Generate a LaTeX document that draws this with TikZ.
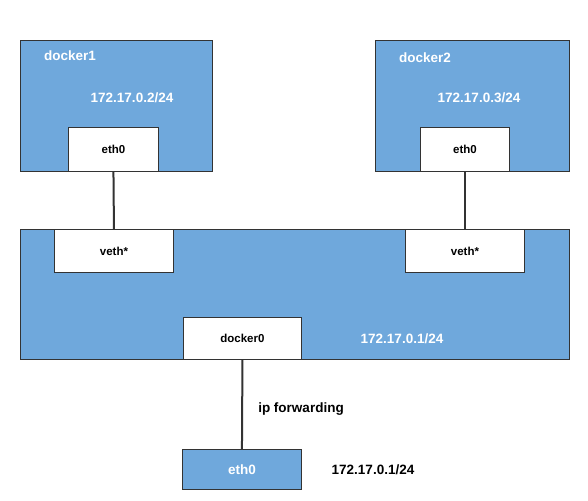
\documentclass[tikz,border=0pt]{standalone}
\usepackage{fontspec}
\setmainfont{Liberation Sans}
\definecolor{boxblue}{HTML}{6FA8DC}
\definecolor{edge}{HTML}{333333}
\begin{document}
\begin{tikzpicture}[x=1pt,y=-1pt,
  container/.style={draw=edge,line width=0.9pt,fill=boxblue,anchor=north west,inner sep=0pt},
  wbox/.style={draw=edge,line width=0.9pt,fill=white,anchor=north west,inner sep=0pt,font=\bfseries\fontsize{11.5}{13}\selectfont},
  wlabel/.style={text=white,font=\bfseries\fontsize{13.5}{16}\selectfont,inner sep=0pt},
  blabel/.style={text=black,font=\bfseries\fontsize{13.5}{16}\selectfont,inner sep=0pt},
  link/.style={draw=edge,line width=2pt}]
\useasboundingbox (0,0) rectangle (588,500);
% containers
\node[container,minimum width=192pt,minimum height=131pt] (docker1) at (20,40) {};
\node[container,minimum width=194pt,minimum height=131pt] (docker2) at (375,40) {};
\node[container,minimum width=549pt,minimum height=130pt] (host) at (20,229) {};
% labels
\node[wlabel] (d1name) at (70,56) {docker1};
\node[wlabel] (d1ip) at (132,98) {172.17.0.2/24};
\node[wlabel] (d2name) at (425,58) {docker2};
\node[wlabel] (d2ip) at (479,98) {172.17.0.3/24};
\node[wlabel] (hostip) at (402,339) {172.17.0.1/24};
% inner boxes
\node[wbox,minimum width=90pt,minimum height=44pt] (eth1) at (68,127) {eth0};
\node[wbox,minimum width=89pt,minimum height=44pt] (eth2) at (420,127) {eth0};
\node[wbox,minimum width=119pt,minimum height=43pt] (veth1) at (54,229) {veth*};
\node[wbox,minimum width=119pt,minimum height=43pt] (veth2) at (405,229) {veth*};
\node[wbox,minimum width=118pt,minimum height=42pt] (docker0) at (183,317) {docker0};
\node[container,minimum width=119pt,minimum height=40pt,text=white,font=\bfseries\fontsize{13.5}{16}\selectfont] (eth0) at (182,449) {eth0};
% connectors
\draw[link] (eth1.south) -- (veth1.north);
\draw[link] (eth2.south) -- (veth2.north);
\draw[link] (docker0.south) -- (eth0.north);
% bottom labels
\node[blabel] (ipfwd) at (301,409) {ip forwarding};
\node[blabel] (extip) at (373,470) {172.17.0.1/24};
\end{tikzpicture}
\end{document}
